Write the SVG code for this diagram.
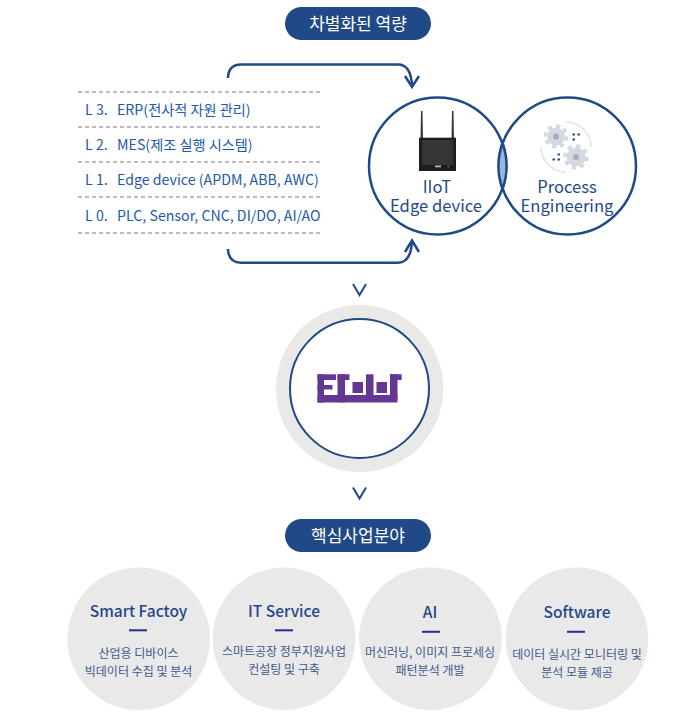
<svg xmlns="http://www.w3.org/2000/svg" width="677" height="720" viewBox="0 0 677 720">
<style>
text{font-family:"Noto Sans CJK KR","Noto Sans",sans-serif}
.pill{fill:#1f4a85}
.pt{fill:#fff;font-size:17px;text-anchor:middle}
.ln{fill:none;stroke:#1f4a85;stroke-width:2.5}
.ch{fill:none;stroke:#1f4a85;stroke-width:2}
.dash{stroke:#bdbdbd;stroke-width:2;stroke-dasharray:4 3}
.lv{fill:#1e5aa8;font-size:14.2px}
.big{fill:#1f4a85;font-size:16.6px;text-anchor:middle}
.bub{fill:#e9e9e9}
.h{fill:#24488a;font-size:15.5px;font-weight:500;text-anchor:middle}
.s{fill:#3f5a8c;font-size:12px;text-anchor:middle}
.bar{fill:#262f8f}
.gear{fill:#d3d8e2}
.teeth{fill:none;stroke:#d3d8e2;stroke-width:3.500;stroke-dasharray:1 1}
.hub{fill:#a4aebf}
.dot{fill:#2c4f8c}
.logo{fill:#663694}
</style>
<rect width="677" height="720" fill="#fff"/>
<g id="connectors">
<path class="ln" d="M228 78V77Q229 64.500 241 64.500H398Q411 64.500 412 86"/>
<path class="ln" d="M405 76L412 87L419 76"/>
<path class="ln" d="M228 249V250Q229 262.700 241 262.700H398Q411 262.700 412 241"/>
<path class="ln" d="M405 252L412 240.500L419 252"/>
<path class="ch" d="M353 284L359.500 295L366 284"/>
<path class="ch" d="M353 487.500L359.500 498.500L366 487.500"/>
</g>
<g id="title-top"><rect class="pill" x="285" y="7" width="146" height="33" rx="16.500"/><text class="pt" x="358" y="29.500">차별화된 역량</text></g>
<g id="levels">
<line class="dash" x1="78" y1="92" x2="320" y2="92"/>
<line class="dash" x1="78" y1="127" x2="320" y2="127"/>
<line class="dash" x1="78" y1="162" x2="320" y2="162"/>
<line class="dash" x1="78" y1="197" x2="320" y2="197"/>
<line class="dash" x1="78" y1="233" x2="320" y2="233"/>
<text class="lv" x="85" y="115">L 3.</text><text class="lv" x="117" y="115">ERP(전사적 자원 관리)</text>
<text class="lv" x="85" y="150">L 2.</text><text class="lv" x="117" y="150">MES(제조 실행 시스템)</text>
<text class="lv" x="85" y="185">L 1.</text><text class="lv" x="117" y="185">Edge device (APDM, ABB, AWC)</text>
<text class="lv" x="85" y="221">L 0.</text><text class="lv" x="117" y="221">PLC, Sensor, CNC, DI/DO, AI/AO</text>
</g>
<g id="iiot">
<circle class="ln" cx="437.500" cy="166" r="68.500"/>
<path d="M421 111H422.500L423 138H420.500Z" fill="#3a3a3a"/><path d="M452 111H453.500L454 138H451.500Z" fill="#3a3a3a"/>
<rect x="419" y="137.700" width="37" height="33.300" fill="#1d1d1d"/><rect x="422" y="140" width="31.300" height="25" fill="#353535"/>
<rect x="435" y="165.500" width="6" height="1.800" fill="#bbb"/><rect x="447.500" y="165.500" width="2" height="2" fill="#555"/>
<text class="big" x="437" y="193">IIoT</text><text class="big" x="436" y="212">Edge device</text>
</g>
<g id="process">
<circle class="ln" cx="567.500" cy="166" r="68.500"/>
<path d="M502.500 143A68.500 68.500 0 0 1 502.500 189A68.500 68.500 0 0 1 502.500 143Z" fill="#9ab7db" stroke="#1f4a85" stroke-width="2.500"/>
<path d="M566 122A25 25 0 0 1 591 147M541 147A25 25 0 0 0 566 172" fill="none" stroke="#dfe3ea" stroke-width="1.500"/>
<circle class="gear" cx="556" cy="136.500" r="9"/><circle class="gear" cx="576" cy="157" r="9.500"/>
<circle class="teeth" cx="556" cy="136.500" r="10.500" pathLength="16"/>
<circle class="teeth" cx="576" cy="157" r="11" pathLength="16"/>
<circle class="hub" cx="556" cy="136.500" r="3"/><circle class="hub" cx="576" cy="157" r="3"/>
<rect class="dot" x="572.500" y="133.500" width="2.500" height="2"/><rect class="dot" x="577.500" y="133.500" width="2.500" height="2"/><rect class="dot" x="572.500" y="138.500" width="2.500" height="2"/>
<rect class="dot" x="552.500" y="158.500" width="2.500" height="2"/><rect class="dot" x="557.500" y="158.500" width="2.500" height="2"/><rect class="dot" x="557.500" y="153.500" width="2.500" height="2"/>
<text class="big" x="567" y="193">Process</text><text class="big" x="567" y="212">Engineering</text>
</g>
<g id="efoot">
<circle cx="359.700" cy="388.500" r="83.700" fill="#e9e9e8"/>
<circle cx="359.500" cy="388.500" r="69.500" fill="#fff" stroke="#1f4a85" stroke-width="2"/>
<g class="logo">
<rect x="317.500" y="374.300" width="6.500" height="28.200"/>
<rect x="317.500" y="374.300" width="18.500" height="5.700"/>
<rect x="317.500" y="385" width="15" height="4.500"/>
<rect x="317.500" y="395" width="80" height="7.500"/>
<rect x="337.500" y="374.300" width="7.500" height="28"/>
<rect x="337.500" y="374.300" width="12" height="5.700"/>
<rect x="352.500" y="382" width="10.500" height="11"/>
<rect x="366" y="374.300" width="7.500" height="25"/>
<rect x="376.500" y="382" width="10.500" height="11"/>
<rect x="390" y="374.300" width="7.500" height="25"/>
<rect x="390" y="374.300" width="11.700" height="5.700"/>
</g>
</g>
<g id="title-bottom"><rect class="pill" x="285" y="519" width="146" height="33" rx="16.500"/><text class="pt" x="358" y="541.500">핵심사업분야</text></g>
<g id="smart"><circle class="bub" cx="138.700" cy="638.700" r="71.300"/><text class="h" x="138.500" y="617">Smart Factoy</text><rect class="bar" x="129" y="629.300" width="18" height="2"/><text class="s" x="138.500" y="658">산업용 디바이스</text><text class="s" x="138.500" y="676">빅데이터 수집 및 분석</text></g>
<g id="it"><circle class="bub" cx="284" cy="638.700" r="71.300"/><text class="h" x="284" y="617">IT Service</text><rect class="bar" x="275" y="629.300" width="18" height="2"/><text class="s" x="284" y="656">스마트공장 정부지원사업</text><text class="s" x="284" y="674">컨설팅 및 구축</text></g>
<g id="ai"><circle class="bub" cx="430.500" cy="638.700" r="71.300"/><text class="h" x="430" y="618">AI</text><rect class="bar" x="422" y="630.800" width="18" height="2"/><text class="s" x="430" y="657">머신러닝, 이미지 프로세싱</text><text class="s" x="430" y="675">패턴분석 개발</text></g>
<g id="software"><circle class="bub" cx="577" cy="638.700" r="71.300"/><text class="h" x="577" y="618">Software</text><rect class="bar" x="567" y="630.800" width="18" height="2"/><text class="s" x="577" y="659">데이터 실시간 모니터링 및</text><text class="s" x="577" y="677">분석 모듈 제공</text></g>
</svg>
